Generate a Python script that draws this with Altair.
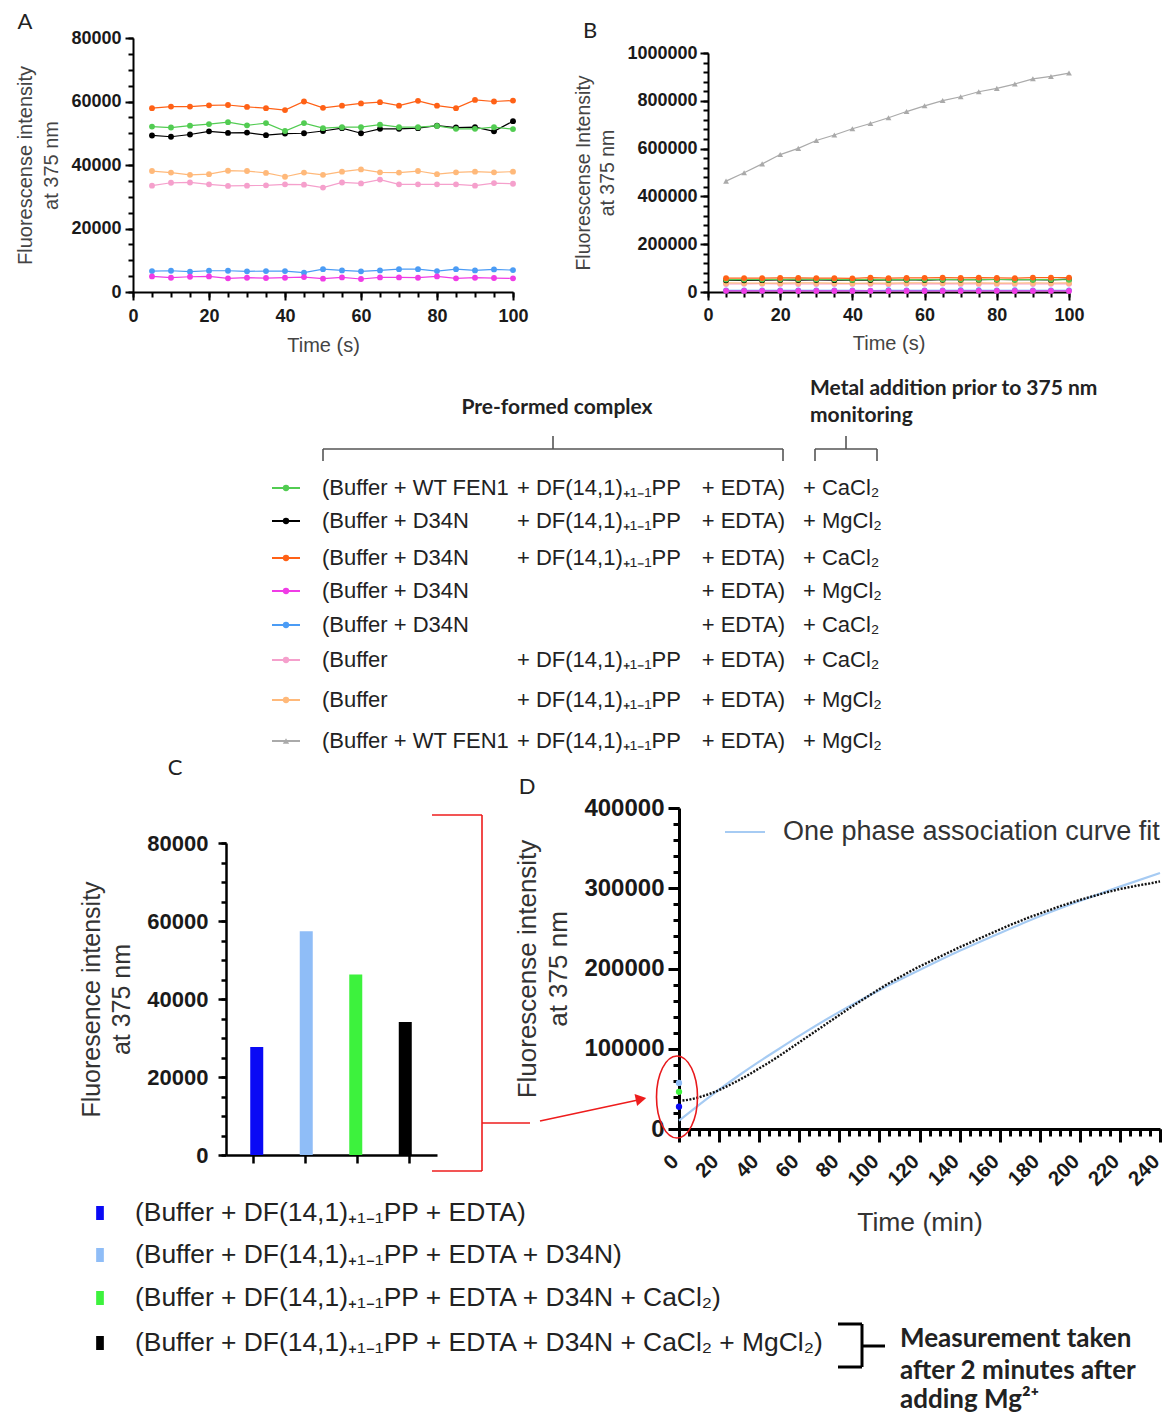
import altair as alt
import pandas as pd

W, H = 1157, 1405
ARIAL = "Liberation Sans"
CALIBRI = "Lato"

# ---------------- Panel A / B data (time in s) ----------------
time_s = [5, 10, 15, 20, 25, 30, 35, 40, 45, 50, 55, 60, 65, 70, 75, 80, 85, 90, 95, 100]
wt_dfpp_edta_ca = [52100, 51800, 52400, 52900, 53500, 52500, 53200, 50700, 53200, 51600,
                   51900, 51900, 52700, 51900, 51900, 52300, 51400, 51400, 51900, 51300]
d34n_dfpp_edta_mg = [49300, 48900, 49600, 50600, 50100, 50200, 49400, 49900, 50000, 50700,
                     51600, 50000, 51400, 51400, 51600, 52400, 51800, 51900, 50600, 53800]
d34n_dfpp_edta_ca = [57900, 58400, 58400, 58800, 58900, 58300, 57900, 57300, 60000, 58000,
                     58700, 59400, 59800, 58700, 60200, 58700, 57900, 60500, 60000, 60300]
d34n_edta_mg = [4900, 4500, 4800, 4900, 4300, 4500, 4400, 4500, 4700, 4200,
                4600, 4100, 4600, 4600, 4500, 4900, 4300, 4500, 4400, 4300]
d34n_edta_ca = [6600, 6700, 6400, 6700, 6700, 6500, 6600, 6600, 6100, 7200,
                6800, 6500, 6800, 7200, 7200, 6600, 7200, 6800, 7100, 6900]
dfpp_edta_ca = [33500, 34400, 34500, 33900, 33400, 33500, 33600, 33900, 33800, 32900,
                34500, 34200, 35400, 33900, 33900, 33900, 33900, 33500, 34300, 34100]
dfpp_edta_mg = [38100, 37600, 36900, 37100, 38200, 38100, 37500, 36300, 37600, 36900,
                37900, 38600, 37700, 37600, 38100, 37100, 37700, 37900, 37700, 37900]
wt_dfpp_edta_mg = [464000, 499000, 536000, 575000, 601000, 634000, 657000, 683000, 705000, 729000,
                   755000, 779000, 801000, 817000, 838000, 852000, 870000, 892000, 902000, 916000]

series_keys = ["wt_ca", "d34n_df_mg", "d34n_df_ca", "d34n_mg", "d34n_ca", "df_ca", "df_mg", "wt_mg"]
series_values = [wt_dfpp_edta_ca, d34n_dfpp_edta_mg, d34n_dfpp_edta_ca, d34n_edta_mg,
                 d34n_edta_ca, dfpp_edta_ca, dfpp_edta_mg, wt_dfpp_edta_mg]
series_colors = ["#52cc52", "#000000", "#ff6116", "#f03ce6", "#4b9cf5", "#f5a0cc", "#ffb97a", "#aaaaaa"]
series_shapes = ["circle", "circle", "circle", "circle", "circle", "circle", "circle", "triangle-up"]
draw_order = ["df_ca", "df_mg", "d34n_ca", "d34n_mg", "d34n_df_mg", "wt_ca", "d34n_df_ca", "wt_mg"]

legend_left = ["(Buffer + WT FEN1", "(Buffer + D34N", "(Buffer + D34N", "(Buffer + D34N",
               "(Buffer + D34N", "(Buffer", "(Buffer", "(Buffer + WT FEN1"]
legend_mid = ["+ DF(14,1)₊₁₋₁PP", "+ DF(14,1)₊₁₋₁PP", "+ DF(14,1)₊₁₋₁PP", "", "",
              "+ DF(14,1)₊₁₋₁PP", "+ DF(14,1)₊₁₋₁PP", "+ DF(14,1)₊₁₋₁PP"]
legend_end = ["+ EDTA)"] * 8
legend_metal = ["+ CaCl₂", "+ MgCl₂", "+ CaCl₂", "+ MgCl₂", "+ CaCl₂", "+ CaCl₂", "+ MgCl₂", "+ MgCl₂"]

# ---------------- Panel C data ----------------
c_labels = ["(Buffer + DF(14,1)₊₁₋₁PP + EDTA)",
            "(Buffer + DF(14,1)₊₁₋₁PP + EDTA + D34N)",
            "(Buffer + DF(14,1)₊₁₋₁PP + EDTA + D34N + CaCl₂)",
            "(Buffer + DF(14,1)₊₁₋₁PP + EDTA + D34N + CaCl₂ + MgCl₂)"]
c_values = [27700, 57400, 46300, 34100]
c_colors = ["#0a0af5", "#8fbdf7", "#3df23d", "#000000"]

# ---------------- Panel D data (time in min) ----------------
d_time = [0, 5, 10, 15, 20, 25, 30, 35, 40, 45, 50, 55, 60, 65, 70, 75, 80, 85, 90, 95, 100,
          105, 110, 115, 120, 125, 130, 135, 140, 145, 150, 155, 160, 165, 170, 175, 180,
          185, 190, 195, 200, 205, 210, 215, 220, 225, 230, 235, 240]
d_signal = [35000, 36500, 39500, 43500, 48500, 54500, 61000, 68000, 75500, 83000, 91000,
            99500, 108000, 116500, 125000, 133500, 142000, 150500, 158500, 166500, 174500,
            182000, 189000, 196000, 202500, 208500, 214500, 220500, 226500, 232000, 237500,
            243000, 248500, 254000, 259000, 264000, 268500, 273000, 277500, 281500, 285500,
            289000, 292500, 296000, 299000, 301500, 304000, 306000, 308500]
fit_time = [0, 10, 20, 30, 40, 50, 60, 80, 100, 120, 140, 160, 180, 200, 220, 240]
fit_signal = [10400, 30000, 49000, 67000, 84000, 100000, 116000, 146000, 173000, 198000,
              222000, 244000, 265000, 284000, 302000, 319000]

# ======================= helpers =======================
def lin(domain, rng):
    return alt.Scale(domain=domain, range=rng, nice=False, zero=False)


def axis(orient, offset, values, labels=True, size=6, width=2, domain=True, title=None,
         fs=18, tcolor="#444444", **kw):
    return alt.Axis(orient=orient, offset=offset, values=values, labels=labels, tickSize=size,
                    tickWidth=width, domain=domain, domainWidth=width, domainColor="black",
                    tickColor="black", grid=False, title=title, format="d", labelFont=ARIAL,
                    labelFontWeight="bold", labelFontSize=fs, labelColor="#1a1a1a",
                    labelOverlap=False, labelFlush=False, titleFont=ARIAL,
                    titleFontWeight="normal", titleColor=tcolor, **kw)


def axes_layer(xs, ys, xaxis, yaxis):
    df = pd.DataFrame({"x": [xs.domain[0]], "y": [ys.domain[0]]})
    return alt.Chart(df).mark_point(opacity=0).encode(
        x=alt.X("x:Q", scale=xs, axis=xaxis), y=alt.Y("y:Q", scale=ys, axis=yaxis))


def txt(text, x, y, size, font=ARIAL, weight="normal", color="#222222", align="left"):
    return alt.Chart(pd.DataFrame({"t": [text]})).mark_text(
        font=font, fontSize=size, fontWeight=weight, color=color, align=align,
        baseline="middle").encode(x=alt.value(x), y=alt.value(y), text="t:N")


def seg(x1, y1, x2, y2, color, width):
    return alt.Chart(pd.DataFrame({"a": [0]})).mark_rule(color=color, strokeWidth=width).encode(
        x=alt.value(x1), y=alt.value(y1), x2=alt.value(x2), y2=alt.value(y2))


layers = []

# ======================= Panel A / B =======================
rows = []
for key in draw_order:
    i = series_keys.index(key)
    for t, v in zip(time_s, series_values[i]):
        rows.append({"t": t, "v": v, "s": key})
df_ab = pd.DataFrame(rows)
col_scale = alt.Scale(domain=series_keys, range=series_colors)
shp_scale = alt.Scale(domain=series_keys, range=series_shapes)

# Panel A geometry (chart px)
xA = lin([0, 100], [125, 505])
yA = lin([0, 80000], [284, 30])
dfA = df_ab[df_ab.s != "wt_mg"]
layers.append(alt.Chart(dfA).mark_line(strokeWidth=1.2).encode(
    x=alt.X("t:Q", scale=xA, axis=None), y=alt.Y("v:Q", scale=yA, axis=None),
    color=alt.Color("s:N", scale=col_scale, legend=None), detail="s:N"))
layers.append(alt.Chart(dfA).mark_circle(size=34, opacity=1).encode(
    x=alt.X("t:Q", scale=xA, axis=None), y=alt.Y("v:Q", scale=yA, axis=None),
    color=alt.Color("s:N", scale=col_scale, legend=None)))
layers.append(axes_layer(
    xA, yA,
    axis("bottom", 284 - H, [0, 20, 40, 60, 80, 100], size=8, labelPadding=7,
         title="Time (s)", titleFontSize=20, titlePadding=10),
    axis("left", -125, [0, 20000, 40000, 60000, 80000], size=8, labelPadding=4,
         title=["Fluorescense intensity", "at 375 nm"],
         titleFontSize=20, titleLineHeight=26, titlePadding=9)))
layers.append(axes_layer(
    xA, yA,
    axis("bottom", 284 - H, list(range(0, 101, 5)), labels=False, size=5, domain=False),
    axis("left", -125, list(range(0, 80001, 5000)), labels=False, size=5, domain=False)))

# Panel B geometry
xB = lin([0, 100], [700, 1061])
yB = lin([0, 1000000], [284, 45])
layers.append(alt.Chart(df_ab).mark_line(strokeWidth=1.2).encode(
    x=alt.X("t:Q", scale=xB, axis=None), y=alt.Y("v:Q", scale=yB, axis=None),
    color=alt.Color("s:N", scale=col_scale, legend=None), detail="s:N"))
layers.append(alt.Chart(df_ab).mark_point(filled=True, size=34, opacity=1).encode(
    x=alt.X("t:Q", scale=xB, axis=None), y=alt.Y("v:Q", scale=yB, axis=None),
    color=alt.Color("s:N", scale=col_scale, legend=None),
    shape=alt.Shape("s:N", scale=shp_scale, legend=None)))
layers.append(axes_layer(
    xB, yB,
    axis("bottom", 284 - H, [0, 20, 40, 60, 80, 100], size=8, labelPadding=6,
         title="Time (s)", titleFontSize=20, titlePadding=9),
    axis("left", -700, [0, 200000, 400000, 600000, 800000, 1000000], size=8, labelPadding=3,
         title=["Fluorescense Intensity", "at 375 nm"], titleFontSize=19.5, titleLineHeight=24,
         titlePadding=9)))
layers.append(axes_layer(
    xB, yB,
    axis("bottom", 284 - H, list(range(0, 101, 5)), labels=False, size=5, domain=False),
    axis("left", -700, list(range(0, 1000001, 40000)), labels=False, size=5, domain=False)))

# ======================= Legend of A/B =======================
df_leg = pd.DataFrame({"row": list(range(8)), "s": series_keys, "left": legend_left,
                       "mid": legend_mid, "end": legend_end, "metal": legend_metal})
rowY = alt.Scale(domain=list(range(8)), range=[480, 513, 550, 583, 617, 652, 692, 733],
                 nice=False, zero=False)
layers.append(alt.Chart(df_leg).mark_rule(strokeWidth=2).encode(
    x=alt.value(264), x2=alt.value(292), y=alt.Y("row:Q", scale=rowY, axis=None),
    color=alt.Color("s:N", scale=col_scale, legend=None)))
layers.append(alt.Chart(df_leg).mark_point(filled=True, size=40, opacity=1).encode(
    x=alt.value(278), y=alt.Y("row:Q", scale=rowY, axis=None),
    color=alt.Color("s:N", scale=col_scale, legend=None),
    shape=alt.Shape("s:N", scale=shp_scale, legend=None)))
for field, xpos, al in [("left", 314, "left"), ("mid", 509, "left"), ("end", 777, "right"),
                        ("metal", 795, "left")]:
    layers.append(alt.Chart(df_leg).mark_text(font=ARIAL, fontSize=22, color="#222222",
                                              align=al, baseline="middle").encode(
        x=alt.value(xpos), y=alt.Y("row:Q", scale=rowY, axis=None), text=f"{field}:N"))

layers.append(txt("Pre-formed complex", 549, 400, 21, font=CALIBRI, weight="bold", align="center"))
layers.append(txt("Metal addition prior to 375 nm", 802, 381, 21, font=CALIBRI, weight="bold"))
layers.append(txt("monitoring", 802, 408, 21, font=CALIBRI, weight="bold"))
BR = "#555555"
layers += [seg(315, 441, 775, 441, BR, 1.6), seg(315, 441, 315, 453, BR, 1.6),
           seg(775, 441, 775, 453, BR, 1.6), seg(545, 428, 545, 441, BR, 1.6),
           seg(807, 441, 869, 441, BR, 1.6), seg(807, 441, 807, 453, BR, 1.6),
           seg(869, 441, 869, 453, BR, 1.6), seg(838, 428, 838, 441, BR, 1.6)]

# ======================= Panel C =======================
df_c = pd.DataFrame({"i": [1, 2, 3, 4], "v": c_values, "lab": c_labels})
c_col_scale = alt.Scale(domain=c_labels, range=c_colors)
xC = lin([0.48, 4.54], [218, 429])
yC = lin([0, 80000], [1147, 835])
layers.append(alt.Chart(df_c).mark_bar(size=13).encode(
    x=alt.X("i:Q", scale=xC, axis=None), y=alt.Y("v:Q", scale=yC, axis=None),
    color=alt.Color("lab:N", scale=c_col_scale, legend=None)))
layers.append(axes_layer(
    xC, yC,
    axis("bottom", 1147 - H, [1, 2, 3, 4], labels=False, size=8, width=2.5),
    axis("left", -218, [0, 20000, 40000, 60000, 80000], fs=22, size=8, width=2.5,
         labelPadding=10, title=["Fluoresence intensity", "at 375 nm"], titleFontSize=25,
         titleLineHeight=30, titlePadding=12, tcolor="#333333")))
layers.append(axes_layer(
    xC, yC, None,
    axis("left", -218, list(range(0, 80001, 5000)), labels=False, size=5, width=2.5, domain=False)))

# Panel C legend
df_cl = pd.DataFrame({"row": [0, 1, 2, 3], "lab": c_labels})
rowC = alt.Scale(domain=[0, 1, 2, 3], range=[1205, 1247, 1290, 1335], nice=False, zero=False)
RECT = "M -0.55 -1 L 0.55 -1 L 0.55 1 L -0.55 1 Z"
layers.append(alt.Chart(df_cl).mark_point(filled=True, size=196, opacity=1, shape=RECT).encode(
    x=alt.value(92), y=alt.Y("row:Q", scale=rowC, axis=None),
    color=alt.Color("lab:N", scale=c_col_scale, legend=None)))
layers.append(alt.Chart(df_cl).mark_text(font=ARIAL, fontSize=26.4, color="#222222", align="left",
                                         baseline="middle").encode(
    x=alt.value(127), y=alt.Y("row:Q", scale=rowC, axis=None), text="lab:N"))
layers += [seg(854, 1316, 854, 1359, "black", 3), seg(830, 1316, 854, 1316, "black", 3),
           seg(830, 1359, 854, 1359, "black", 3), seg(854, 1338, 877, 1338, "black", 3)]
layers.append(txt("Measurement taken", 892, 1331, 26, font=CALIBRI, weight="bold"))
layers.append(txt("after 2 minutes after", 892, 1363, 26, font=CALIBRI, weight="bold"))
layers.append(txt("adding Mg²⁺", 892, 1392, 26, font=CALIBRI, weight="bold"))

# ======================= Panel D =======================
xD = lin([0, 240], [671, 1152])
yD = lin([0, 400000], [1121, 800])
df_fit = pd.DataFrame({"t": fit_time, "v": fit_signal})
df_d = pd.DataFrame({"t": d_time, "v": d_signal})
layers.append(alt.Chart(df_fit).mark_line(color="#a6cbf3", strokeWidth=2.2, interpolate="monotone").encode(
    x=alt.X("t:Q", scale=xD, axis=None), y=alt.Y("v:Q", scale=yD, axis=None)))
layers.append(alt.Chart(df_d).mark_line(color="#111111", strokeWidth=2.4, strokeDash=[2, 1.5]).encode(
    x=alt.X("t:Q", scale=xD, axis=None), y=alt.Y("v:Q", scale=yD, axis=None)))
df_d0 = pd.DataFrame({"t": [0, 0, 0], "v": c_values[:3], "lab": c_labels[:3]})
layers.append(alt.Chart(df_d0).mark_circle(size=40, opacity=1).encode(
    x=alt.X("t:Q", scale=xD, axis=None), y=alt.Y("v:Q", scale=yD, axis=None),
    color=alt.Color("lab:N", scale=c_col_scale, legend=None)))
layers.append(axes_layer(
    xD, yD,
    axis("bottom", 1121 - H, list(range(0, 241, 20)), size=13, width=3, fs=20.5, labelAngle=315,
         labelAlign="right", labelBaseline="middle", labelPadding=16, labelOffset=-4,
         title="Time (min)", titleFontSize=26.5, titlePadding=20, tcolor="#333333"),
    axis("left", -671, [0, 100000, 200000, 300000, 400000], size=11, width=3, fs=24,
         labelPadding=4, title=["Fluorescense intensity", "at 375 nm"], titleFontSize=26,
         titleLineHeight=31, titlePadding=12, tcolor="#333333")))
layers.append(axes_layer(
    xD, yD,
    axis("bottom", 1121 - H, list(range(0, 241, 5)), labels=False, size=7, width=3, domain=False),
    axis("left", -671, list(range(0, 400001, 20000)), labels=False, size=6, width=3, domain=False)))

layers.append(seg(717, 824, 757, 824, "#a6cbf3", 2.2))
layers.append(txt("One phase association curve fit", 775, 824, 27, color="#333333"))

# red annotations linking C to D
ELL = ("M 0 -1 C 0.2761 -1 0.5 -0.5523 0.5 0 C 0.5 0.5523 0.2761 1 0 1 "
       "C -0.2761 1 -0.5 0.5523 -0.5 0 C -0.5 -0.5523 -0.2761 -1 0 -1 Z")
layers.append(alt.Chart(pd.DataFrame({"a": [0]})).mark_point(
    shape=ELL, size=6724, filled=False, color="#e8191c", strokeWidth=1.6, opacity=1).encode(
    x=alt.value(669), y=alt.value(1089)))
RED = "#ee1c1c"
layers += [seg(474, 807, 474, 1163, RED, 1.6), seg(424, 807, 474, 807, RED, 1.6),
           seg(424, 1163, 474, 1163, RED, 1.6), seg(474, 1115, 522, 1115, RED, 1.6),
           seg(532, 1113, 630, 1092, RED, 1.6)]
layers.append(alt.Chart(pd.DataFrame({"a": [0]})).mark_point(
    shape="triangle-right", size=150, filled=True, color=RED, angle=348, opacity=1).encode(
    x=alt.value(633), y=alt.value(1091)))

# panel letters
layers.append(txt("A", 17, 14, 22, font=CALIBRI, align="center"))
layers.append(txt("B", 582, 23, 22, font=CALIBRI, align="center"))
layers.append(txt("C", 167, 760, 22, font=CALIBRI, align="center"))
layers.append(txt("D", 519, 779, 22, font=CALIBRI, align="center"))

chart = alt.layer(*layers).resolve_scale(
    x="independent", y="independent", color="independent", shape="independent"
).properties(width=W, height=H, padding=0, autosize=alt.AutoSizeParams(type="none")
).configure_view(stroke=None)

chart.save("out.html", embed_options={"renderer": "svg", "actions": False})
